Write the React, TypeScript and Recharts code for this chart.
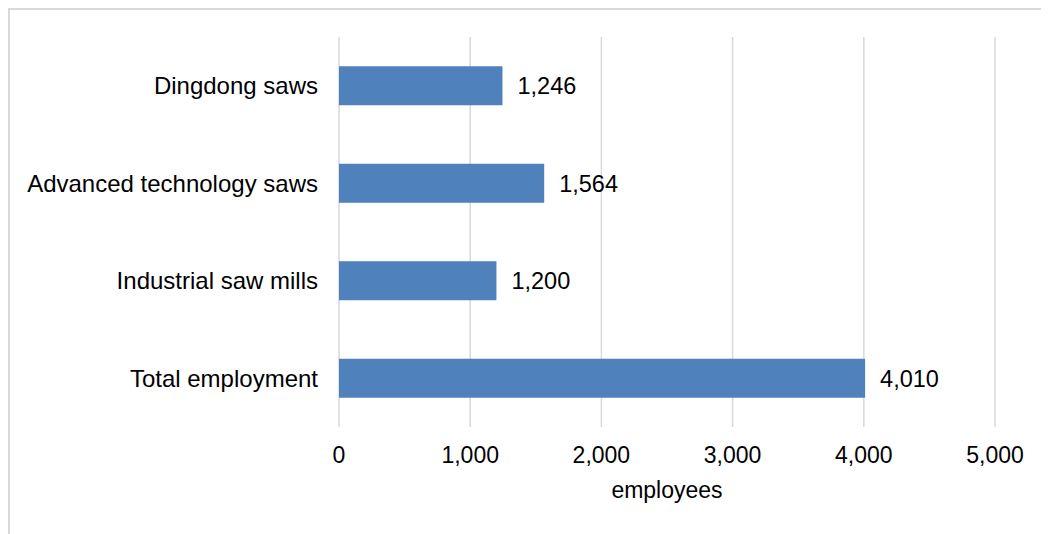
import React from "react";
import { BarChart, Bar, XAxis, YAxis, CartesianGrid, LabelList, Label } from "recharts";

// categories top to bottom, as shown in the chart
const categories = ["Dingdong saws", "Advanced technology saws", "Industrial saw mills", "Total employment"];
const employees = [1246, 1564, 1200, 4010];
const xTicks = [0, 1000, 2000, 3000, 4000, 5000];

const data = categories.map((name, i) => ({ name, employees: employees[i] }));

const FONT = "'Liberation Sans', Arial, sans-serif";
const fmt = (v: number) => Number(v).toLocaleString("en-US");

export default function App() {
  return (
    <div
      style={{
        width: 1041,
        height: 526,
        borderTop: "2px solid #d9d9d9",
        borderLeft: "2px solid #d9d9d9",
        boxSizing: "border-box",
        fontFamily: FONT,
        overflow: "hidden",
      }}
    >
      <BarChart
        width={1039}
        height={524}
        data={data}
        layout="vertical"
        margin={{ top: 27, right: 54, left: 0, bottom: 36 }}
        barCategoryGap="30%"
      >
        <CartesianGrid horizontal={false} stroke="#d9d9d9" strokeWidth={1.5} />
        <XAxis
          type="number"
          domain={[0, 5000]}
          ticks={xTicks}
          tickFormatter={fmt}
          axisLine={false}
          tickLine={false}
          tickSize={0}
          tickMargin={20}
          height={71}
          tick={{ fill: "#000", fontSize: 23, fontFamily: FONT }}
          interval={0}
        >
          <Label value="employees" position="insideBottom" offset={0} fill="#000" fontSize={23} fontFamily={FONT} />
        </XAxis>
        <YAxis
          type="category"
          dataKey="name"
          width={329}
          axisLine={false}
          tickLine={false}
          tickSize={0}
          tickMargin={21}
          interval={0}
          tick={{ fill: "#000", fontSize: 24, fontFamily: FONT }}
        />
        <Bar dataKey="employees" fill="#4f81bd" isAnimationActive={false}>
          <LabelList
            dataKey="employees"
            position="right"
            offset={15}
            formatter={(v: any) => fmt(v)}
            fill="#000"
            fontSize={23.5}
            fontFamily={FONT}
          />
        </Bar>
      </BarChart>
    </div>
  );
}
